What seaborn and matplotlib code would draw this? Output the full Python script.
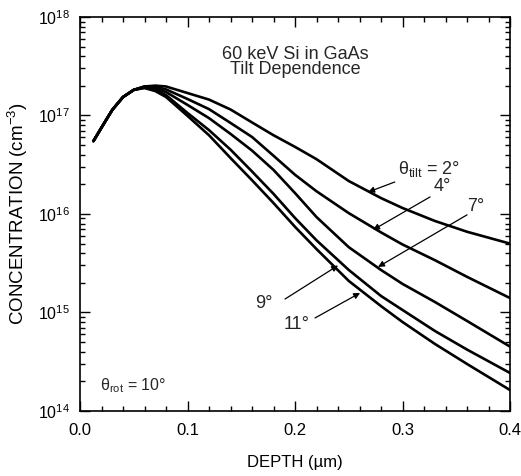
import matplotlib
matplotlib.use("Agg")
import matplotlib.pyplot as plt
import matplotlib.ticker as mticker
import numpy as np
import pandas as pd
import seaborn as sns

# ---- data ----
depth = [0.0125, 0.02, 0.03, 0.04, 0.05, 0.06, 0.07, 0.08, 0.10, 0.12, 0.14,
         0.16, 0.18, 0.20, 0.22, 0.25, 0.28, 0.30, 0.33, 0.36, 0.40]
rise = [5.5e16, 7.55e16, 1.14e17, 1.54e17, 1.82e17]

tilt_2 = rise + [1.97e17, 2.01e17, 1.97e17, 1.69e17, 1.45e17, 1.15e17, 8.5e16, 6.3e16,
                 4.8e16, 3.6e16, 2.16e16, 1.45e16, 1.15e16, 8.5e15, 6.6e15, 5.0e15]
tilt_4 = rise + [1.97e17, 1.95e17, 1.84e17, 1.47e17, 1.16e17, 8.4e16, 6.05e16, 3.9e16,
                 2.5e16, 1.7e16, 1.02e16, 6.5e15, 4.9e15, 3.4e15, 2.3e15, 1.40e15]
tilt_7 = rise + [1.95e17, 1.88e17, 1.73e17, 1.28e17, 9.4e16, 6.5e16, 4.4e16, 2.8e16,
                 1.63e16, 9.3e15, 4.6e15, 2.7e15, 1.95e15, 1.28e15, 8.2e14, 4.5e14]
tilt_9 = rise + [1.92e17, 1.82e17, 1.61e17, 1.06e17, 7.1e16, 4.5e16, 2.7e16, 1.6e16,
                 9.1e15, 5.4e15, 2.7e15, 1.47e15, 1.06e15, 6.5e14, 4.2e14, 2.43e14]
tilt_11 = rise + [1.90e17, 1.77e17, 1.54e17, 9.9e16, 6.3e16, 3.7e16, 2.2e16, 1.29e16,
                  7.4e15, 4.4e15, 2.09e15, 1.16e15, 8.0e14, 4.8e14, 3.0e14, 1.63e14]

tilt_names = ["2", "4", "7", "9", "11"]
series = [tilt_2, tilt_4, tilt_7, tilt_9, tilt_11]

x_ticks = [0.0, 0.1, 0.2, 0.3, 0.4]
x_tick_labels = ["0.0", "0.1", "0.2", "0.3", "0.4"]

rows = []
for name, vals in zip(tilt_names, series):
    for d, v in zip(depth, vals):
        rows.append({"depth": d, "conc": v, "tilt": name})
df = pd.DataFrame(rows)

# ---- style ----
sns.set_theme(style="ticks")
plt.rcParams["font.family"] = ["Liberation Sans", "DejaVu Sans"]
plt.rcParams["mathtext.fontset"] = "custom"
plt.rcParams["mathtext.rm"] = "Liberation Sans"
plt.rcParams["mathtext.it"] = "Liberation Sans:italic"
plt.rcParams["mathtext.bf"] = "Liberation Sans:bold"

fig = plt.figure(figsize=(5.21, 4.76), dpi=100)
ax = fig.add_axes([0.1536, 0.1366, 0.979 - 0.1536, 0.9643 - 0.1366])

sns.lineplot(data=df, x="depth", y="conc", hue="tilt", palette=["black"] * 5,
             legend=False, linewidth=1.9, ax=ax, estimator=None)

ax.set_yscale("log")
ax.set_xlim(0.0, 0.4)
ax.set_ylim(1e14, 1e18)
ax.set_xticks(x_ticks)
ax.set_xticklabels(x_tick_labels)
ax.xaxis.set_minor_locator(mticker.MultipleLocator(0.02))
ax.yaxis.set_major_locator(mticker.LogLocator(base=10, numticks=10))
ax.yaxis.set_minor_locator(mticker.LogLocator(base=10, subs=np.arange(2, 10), numticks=20))
ax.yaxis.set_minor_formatter(mticker.NullFormatter())

ax.tick_params(which="both", direction="in", top=True, right=True, colors="black",
               width=1.0)
ax.tick_params(axis="x", which="major", labelsize=12, pad=9)
ax.tick_params(axis="y", which="major", labelsize=11.5, pad=7)
ax.tick_params(which="major", length=7)
ax.tick_params(which="minor", length=3.5)
for s in ax.spines.values():
    s.set_linewidth(1.2)
    s.set_color("black")

ax.set_xlabel("DEPTH (\u00b5m)", fontsize=12, labelpad=12, color="black")
ax.set_ylabel("CONCENTRATION (cm$^{-3}$)", fontsize=13.5, labelpad=6, color="black")

# ---- annotations ----
ax.text(0.200, 4.2e17, "60 keV Si in GaAs", ha="center", va="center", fontsize=13)
ax.text(0.200, 2.9e17, "Tilt Dependence", ha="center", va="center", fontsize=13)

arrow = dict(arrowstyle="-|>", color="black", lw=0.9, mutation_scale=9,
             shrinkA=0, shrinkB=0)

ax.annotate("\u03b8$_{\\rm tilt}$ = 2°", xy=(0.268, 1.67e16), xytext=(0.2958, 2.86e16),
            ha="left", va="center", fontsize=13, arrowprops=arrow)
ax.text(0.3367, 1.88e16, "4°", ha="center", va="center", fontsize=13)
ax.annotate("", xy=(0.2726, 6.9e15), xytext=(0.3256, 1.49e16), arrowprops=arrow)
ax.text(0.3684, 1.2e16, "7°", ha="center", va="center", fontsize=13)
ax.annotate("", xy=(0.2772, 2.9e15), xytext=(0.36, 9.8e15), arrowprops=arrow)
ax.text(0.1712, 1.22e15, "9°", ha="center", va="center", fontsize=13)
ax.annotate("", xy=(0.240, 3.0e15), xytext=(0.1907, 1.37e15), arrowprops=arrow)
ax.text(0.2019, 7.5e14, "11°", ha="center", va="center", fontsize=13)
ax.annotate("", xy=(0.2605, 1.58e15), xytext=(0.2186, 8.8e14), arrowprops=arrow)

ax.text(0.0186, 1.79e14, "\u03b8$_{\\rm rot}$ = 10°", ha="left", va="center", fontsize=11.5)

fig.savefig("out.png", dpi=100)
